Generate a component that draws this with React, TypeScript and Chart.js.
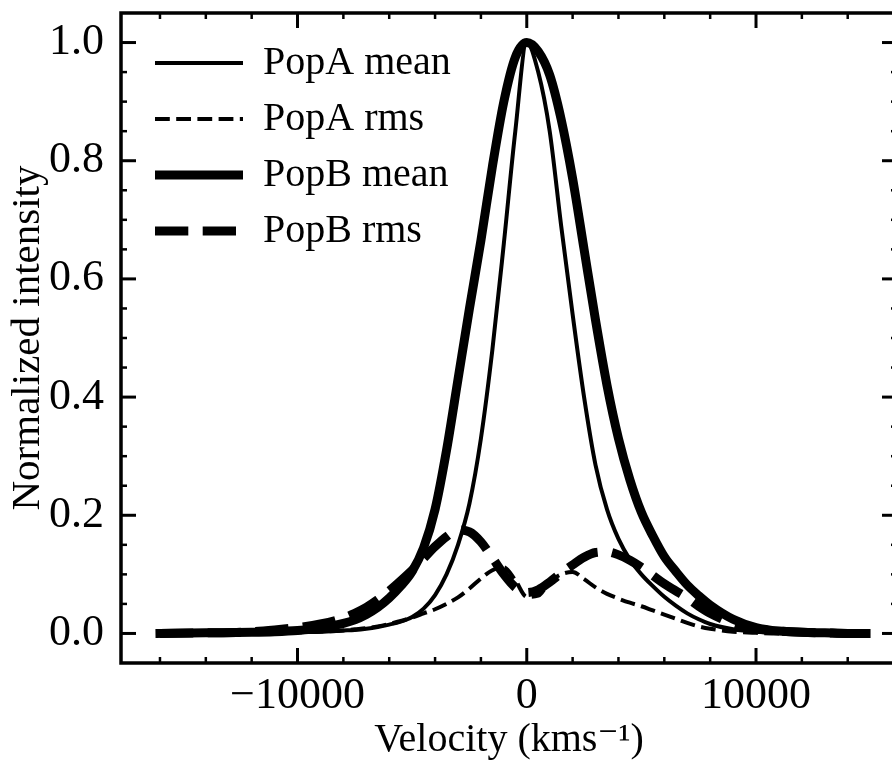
import React, { useEffect, useRef } from 'react';
import { Chart, registerables } from 'chart.js';

Chart.register(...registerables);

// ---- data ----
const VELOCITY = [
  -16000, -14000, -12000, -11000, -10000, -9000, -8000, -7500, -7000, -6500,
  -6000, -5500, -5000, -4500, -4000, -3500, -3000, -2500, -2000, -1500,
  -1000, -500, 0, 500, 1000, 1500, 2000, 2500, 3000, 3500,
  4000, 4500, 5000, 5500, 6000, 6500, 7000, 7500, 8000, 9000,
  10000, 11000, 12000, 13000, 14000, 14800,
];

const POPA_MEAN = [
  0, 0, 0.001, 0.001, 0.002, 0.003, 0.005, 0.006, 0.008, 0.011,
  0.015, 0.02, 0.028, 0.042, 0.065, 0.1, 0.15, 0.22, 0.33, 0.48,
  0.66, 0.85, 1.0, 0.95, 0.85, 0.69, 0.54, 0.4, 0.285, 0.21,
  0.16, 0.125, 0.1, 0.08, 0.062, 0.047, 0.034, 0.024, 0.016, 0.007,
  0.003, 0.002, 0.001, 0, 0, 0,
];

const POPA_RMS = [
  0, 0, 0.001, 0.001, 0.002, 0.003, 0.005, 0.007, 0.009, 0.012,
  0.016, 0.021, 0.027, 0.034, 0.041, 0.05, 0.061, 0.076, 0.093, 0.107,
  0.112, 0.09, 0.062, 0.064, 0.087, 0.1, 0.104, 0.092, 0.078, 0.067,
  0.059, 0.052, 0.046, 0.039, 0.032, 0.025, 0.018, 0.012, 0.008, 0.003,
  0.001, 0, 0, 0, 0, 0,
];

const POPB_MEAN = [
  0, 0.001, 0.002, 0.003, 0.005, 0.009, 0.017, 0.023, 0.032, 0.044,
  0.06, 0.08, 0.105, 0.145, 0.21, 0.31, 0.43, 0.55, 0.665, 0.79,
  0.9, 0.975, 1.0, 0.985, 0.945, 0.87, 0.77, 0.65, 0.53, 0.42,
  0.33, 0.26, 0.205, 0.165, 0.13, 0.105, 0.082, 0.064, 0.048, 0.024,
  0.01, 0.004, 0.002, 0.001, 0, 0,
];

const POPB_RMS = [
  0, 0.001, 0.003, 0.006, 0.01, 0.016, 0.026, 0.034, 0.044, 0.057,
  0.072, 0.089, 0.107, 0.127, 0.147, 0.164, 0.175, 0.172, 0.155, 0.128,
  0.1, 0.078, 0.069, 0.074, 0.087, 0.102, 0.116, 0.129, 0.137, 0.138,
  0.133, 0.124, 0.112, 0.098, 0.084, 0.072, 0.06, 0.046, 0.034, 0.017,
  0.008, 0.004, 0.002, 0.001, 0, 0,
];

const SERIES_LABELS = ['PopA mean', 'PopA rms', 'PopB mean', 'PopB rms'];

const X_MAJOR = [-10000, 0, 10000];
const X_MINOR = [-16000, -14000, -12000, -8000, -6000, -4000, -2000, 2000, 4000, 6000, 8000, 12000, 14000, 16000];
const Y_MAJOR = [0, 0.2, 0.4, 0.6, 0.8, 1.0];
const Y_MINOR = [0.05, 0.1, 0.15, 0.25, 0.3, 0.35, 0.45, 0.5, 0.55, 0.65, 0.7, 0.75, 0.85, 0.9, 0.95];

const X_TITLE = 'Velocity (kms\u207B\u00B9)';
const Y_TITLE = 'Normalized intensity';

const FONT = "'Liberation Serif', 'DejaVu Serif', serif";

export default function App() {
  const ref = useRef<HTMLCanvasElement>(null);

  useEffect(() => {
    const canvas = ref.current!;
    const pts = (ys: number[]) => VELOCITY.map((v, i) => ({ x: v, y: ys[i] }));

    const framePlugin = {
      id: 'frameTicks',
      afterLayout(chart: any) {
        const lg = chart.legend;
        if (lg) {
          lg.left = chart.chartArea.left + 18;
          lg.top = chart.chartArea.top + 14;
        }
      },
      afterDraw(chart: any) {
        const { ctx, chartArea: a, scales } = chart;
        const xs = scales.x;
        const ys = scales.y;
        ctx.save();
        ctx.strokeStyle = '#000';
        ctx.lineCap = 'butt';
        ctx.setLineDash([]);
        const seg = (x1: number, y1: number, x2: number, y2: number, w: number) => {
          ctx.lineWidth = w;
          ctx.beginPath();
          ctx.moveTo(x1, y1);
          ctx.lineTo(x2, y2);
          ctx.stroke();
        };
        X_MAJOR.forEach((v) => {
          const x = xs.getPixelForValue(v);
          seg(x, a.bottom, x, a.bottom - 15, 3);
          seg(x, a.top, x, a.top + 15, 3);
        });
        X_MINOR.forEach((v) => {
          const x = xs.getPixelForValue(v);
          seg(x, a.bottom, x, a.bottom - 6, 2.5);
          seg(x, a.top, x, a.top + 6, 2.5);
        });
        Y_MAJOR.forEach((v) => {
          const y = ys.getPixelForValue(v);
          seg(a.left, y, a.left + 15, y, 3);
          seg(a.right, y, a.right - 15, y, 3);
        });
        Y_MINOR.forEach((v) => {
          const y = ys.getPixelForValue(v);
          seg(a.left, y, a.left + 6, y, 2.5);
          seg(a.right, y, a.right - 6, y, 2.5);
        });
        ctx.lineWidth = 3.5;
        ctx.strokeRect(a.left, a.top, a.right - a.left, a.bottom - a.top);
        ctx.restore();
      },
    };

    const thin = 4;
    const thick = 9;
    const noPad = (s: any) => {
      s.paddingTop = 0;
      s.paddingBottom = 0;
      s.paddingLeft = 0;
      s.paddingRight = 0;
    };

    const chart = new Chart(canvas, {
      type: 'line',
      data: {
        datasets: [
          {
            label: SERIES_LABELS[0], data: pts(POPA_MEAN), borderColor: '#000', backgroundColor: '#000',
            borderWidth: thin, borderCapStyle: 'square', borderJoinStyle: 'round', order: 4,
          },
          {
            label: SERIES_LABELS[1], data: pts(POPA_RMS), borderColor: '#000', backgroundColor: '#000',
            borderWidth: thin, borderDash: [3.7 * thin, 1.6 * thin], borderCapStyle: 'butt', borderJoinStyle: 'round', order: 3,
          },
          {
            label: SERIES_LABELS[2], data: pts(POPB_MEAN), borderColor: '#000', backgroundColor: '#000',
            borderWidth: thick, borderCapStyle: 'square', borderJoinStyle: 'round', order: 2,
          },
          {
            label: SERIES_LABELS[3], data: pts(POPB_RMS), borderColor: '#000', backgroundColor: '#000',
            borderWidth: thick, borderDash: [3.7 * thick, 1.6 * thick], borderCapStyle: 'butt', borderJoinStyle: 'round', order: 1,
          },
        ] as any,
      },
      options: {
        responsive: false,
        animation: false,
        devicePixelRatio: 1,
        events: [],
        layout: { padding: { top: 13, right: 3, left: 0, bottom: 0 } },
        elements: {
          point: { radius: 0, hoverRadius: 0 },
          line: { cubicInterpolationMode: 'monotone', fill: false },
        },
        plugins: {
          tooltip: { enabled: false },
          legend: {
            display: true,
            position: 'chartArea' as any,
            align: 'start',
            labels: {
              font: { family: FONT, size: 40 },
              color: '#000',
              usePointStyle: true,
              pointStyle: 'line',
              pointStyleWidth: 88,
              boxHeight: 40,
              padding: 16,
              generateLabels: (ch: any) =>
                ch.data.datasets.map((ds: any, i: number) => ({
                  text: ds.label,
                  fillStyle: '#000',
                  strokeStyle: '#000',
                  fontColor: '#000',
                  lineWidth: ds.borderWidth,
                  lineDash: ds.borderDash || [],
                  lineCap: 'butt',
                  pointStyle: 'line',
                  hidden: false,
                  datasetIndex: i,
                })),
            },
          },
        },
        scales: {
          x: {
            type: 'linear',
            position: 'bottom',
            min: -17700,
            max: 16150,
            afterBuildTicks: (s: any) => {
              s.ticks = X_MAJOR.map((value) => ({ value }));
            },
            afterFit: (s: any) => {
              s.height = 101;
              noPad(s);
            },
            ticks: {
              autoSkip: false,
              maxRotation: 0,
              minRotation: 0,
              padding: 3,
              color: '#000',
              font: { family: FONT, size: 44, lineHeight: 1 },
              callback: (v: any) => (v < 0 ? '\u2212' + Math.abs(v) : String(v)),
            },
            grid: { display: false },
            border: { display: false },
            title: {
              display: true,
              text: X_TITLE,
              color: '#000',
              font: { family: FONT, size: 40 },
              padding: { top: 0, bottom: 0 },
            },
          },
          y: {
            type: 'linear',
            min: -0.05,
            max: 1.05,
            afterBuildTicks: (s: any) => {
              s.ticks = Y_MAJOR.map((value) => ({ value }));
            },
            afterFit: (s: any) => {
              s.width = 121;
              noPad(s);
            },
            ticks: {
              autoSkip: false,
              padding: 9,
              color: '#000',
              font: { family: FONT, size: 44, lineHeight: 1 },
              callback: (v: any) => Number(v).toFixed(1),
            },
            grid: { display: false },
            border: { display: false },
            title: {
              display: true,
              text: Y_TITLE,
              color: '#000',
              font: { family: FONT, size: 41 },
              padding: { top: 4, bottom: 0 },
            },
          },
        },
      } as any,
      plugins: [framePlugin],
    });

    return () => chart.destroy();
  }, []);

  return (
    <div style={{ position: 'fixed', left: 0, top: 0, width: 892, height: 764, overflow: 'hidden', background: '#fff' }}>
      <canvas ref={ref} width={900} height={764} style={{ display: 'block', width: 900, height: 764 }} />
    </div>
  );
}
